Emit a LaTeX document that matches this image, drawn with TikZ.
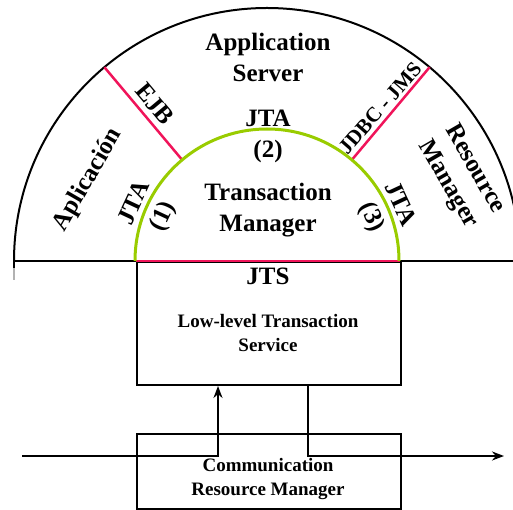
\documentclass[tikz,border=0pt]{standalone}
\usepackage{fontspec}
\setmainfont{Liberation Serif}
\usetikzlibrary{arrows.meta,calc}
\definecolor{pinkline}{HTML}{F0145A}
\definecolor{greenline}{HTML}{99CC00}
\begin{document}
\begin{tikzpicture}[x=1pt,y=-1pt,
  blk/.style={draw=black,line width=2pt},
  pnk/.style={draw=pinkline,line width=2.5pt},
  grn/.style={draw=greenline,line width=3pt},
  big/.style={font=\fontsize{25}{31}\selectfont\bfseries,align=center,inner sep=0pt},
  mid/.style={font=\fontsize{21}{25}\selectfont\bfseries,align=center,inner sep=0pt},
  sml/.style={font=\fontsize{19}{24}\selectfont\bfseries,align=center,inner sep=0pt},
  conn/.style={draw=black,line width=2pt,-{Stealth[length=12pt,width=9pt]}}]
\useasboundingbox (0,0) rectangle (513,510);
\coordinate (c) at (267,261);
% outer semicircle and base
\draw[blk] (14,261) arc[start angle=180,end angle=360,radius=253];
\draw[blk] (14,261) -- (513,261);
\draw[draw=black,line width=2pt] (14,261) -- (14,268);
\draw[draw=gray!60,line width=1.5pt] (14,268) -- (14,280);
% pink spokes
\draw[pnk] ($(c)+(-130:132)$) -- ($(c)+(-130:253)$);
\draw[pnk] ($(c)+(-50:132)$) -- ($(c)+(-50:253)$);
% boxes
\node[blk,minimum width=264pt,minimum height=123pt,anchor=north west,inner sep=0pt] (jts) at (136,261) {};
\node[blk,minimum width=264pt,minimum height=75pt,anchor=north west,inner sep=0pt] (crm) at (136,433) {};
% pink base of TM and green arc
\draw[pnk] (136,261) -- (400,261);
\draw[grn] (135,261) arc[start angle=180,end angle=360,radius=132];
% texts
\node[big] (as) at (268,57) {Application\\Server};
\node[big] (tm) at (268,210) {Transaction\\Manager};
\node[big] (jta2) at (268,136) {JTA\\(2)};
\node[big,rotate=60] (apl) at (88,180) {Aplicación};
\node[big,rotate=-50] (ejb) at (155,104) {EJB};
\node[mid,rotate=49] (jdbc) at (380,108) {JDBC - JMS};
\node[big,rotate=-60] (rm) at (461,177) {Resource\\Manager};
\node[big,rotate=65] (jta1) at (150,210) {JTA\\(1)};
\node[big,rotate=-65] (jta3) at (385,211) {JTA\\(3)};
\node[big] (jtst) at (268,276) {JTS};
\node[sml] (llts) at (268,333) {Low-level Transaction\\Service};
\node[sml] (crmt) at (268,479) {Communication\\Resource Manager};
% connectors
\coordinate (inL) at (22,456);
\coordinate (bendL) at (218,456);
\coordinate (topR) at (308,384);
\coordinate (outR) at (504,456);
\draw[conn] (inL) -- (bendL) -- (bendL |- jts.south);
\draw[conn] (topR) -- (topR |- outR) -- (outR);
\end{tikzpicture}
\end{document}
